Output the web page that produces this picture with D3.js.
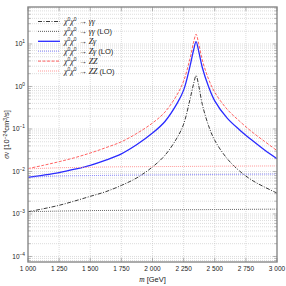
<!DOCTYPE html>
<html lang="en">
<head>
<meta charset="UTF-8" />
<title>sigma v vs m</title>
<script src="https://cdn.jsdelivr.net/npm/d3@7"></script>
<style>
  body { margin: 0; background: #fff; }
  svg { display: block; }
  .tick-label { font: 6.5px "Liberation Sans", Arial, sans-serif; fill: #222; }
  .math { font-family: "Liberation Serif", "DejaVu Serif", serif; font-style: italic; }
</style>
</head>
<body>
<svg width="286" height="286"></svg>
<script>
// ---- data ----
const massFull = [1000, 1125, 1250, 1375, 1500, 1625, 1750, 1875, 2000, 2100, 2200, 2250, 2300, 2330, 2350, 2370, 2400, 2450, 2500, 2600, 2700, 2800, 2900, 3000];
const sigmaGG  = [0.00113, 0.00133, 0.0016, 0.00202, 0.0026, 0.00335, 0.0047, 0.0071, 0.0128, 0.024, 0.064, 0.13, 0.48, 1.15, 1.8, 1.1, 0.38, 0.12, 0.054, 0.020, 0.0102, 0.0062, 0.0043, 0.0031];
const sigmaZG  = [0.0073, 0.0082, 0.0094, 0.0113, 0.0140, 0.0185, 0.026, 0.043, 0.080, 0.15, 0.41, 0.82, 2.9, 7.2, 11.3, 7.0, 2.8, 1.0, 0.46, 0.18, 0.095, 0.054, 0.032, 0.020];
const sigmaZZ  = [0.0117, 0.0140, 0.0170, 0.0211, 0.0272, 0.0363, 0.050, 0.079, 0.138, 0.25, 0.66, 1.35, 4.4, 11, 17, 10.5, 4.2, 1.5, 0.73, 0.29, 0.152, 0.085, 0.051, 0.031];

const massLO   = [1000, 1250, 1500, 1750, 2000, 2500, 3000];
const sigmaGGlo = [0.00113, 0.00117, 0.0012, 0.00122, 0.00124, 0.00127, 0.0013];
const sigmaZGlo = [0.0073, 0.0078, 0.008, 0.0082, 0.0083, 0.0085, 0.0087];
const sigmaZZlo = [0.0115, 0.0122, 0.0126, 0.0129, 0.013, 0.0133, 0.0135];

const xTicks = [1000, 1250, 1500, 1750, 2000, 2250, 2500, 2750, 3000];
const yDecades = [-4, -3, -2, -1, 0, 1];

const series = [
  { label: "\u2192 \u03b3\u03b3", lo: false, x: massFull, y: sigmaGG,   color: "#222",    width: 0.9, dash: "4,1.5,1,1.5" },
  { label: "\u2192 \u03b3\u03b3", lo: true,  x: massLO,   y: sigmaGGlo, color: "#555",    width: 0.9, dash: "1,1" },
  { label: "\u2192 Z\u03b3",      lo: false, x: massFull, y: sigmaZG,   color: "#2a2aff", width: 1.3, dash: null },
  { label: "\u2192 Z\u03b3",      lo: true,  x: massLO,   y: sigmaZGlo, color: "#8080ff", width: 0.9, dash: "1,1" },
  { label: "\u2192 ZZ",           lo: false, x: massFull, y: sigmaZZ,   color: "#ff5050", width: 0.9, dash: "3,1.5" },
  { label: "\u2192 ZZ",           lo: true,  x: massLO,   y: sigmaZZlo, color: "#ff9a9a", width: 1, dash: "1,1" }
];

// ---- layout ----
const svg = d3.select("svg");
const pLeft = 28, pRight = 277, pTop = 7, pBottom = 262;

const x = d3.scaleLinear().domain([1000, 3000]).range([pLeft, pRight]);
const y = d3.scaleLog().domain([Math.pow(10, -4.13), Math.pow(10, 1.87)]).range([pBottom, pTop]);

const g = svg.append("g");

// grid: horizontal at every log tick, vertical at x ticks
const minorVals = [];
[-5].concat(yDecades).forEach(k => {
  for (let i = 1; i <= 9; i++) {
    const v = i * Math.pow(10, k);
    if (v >= y.domain()[0] && v <= y.domain()[1]) minorVals.push(v);
  }
});

g.selectAll(".hgrid").data(minorVals).enter().append("line")
  .attr("x1", pLeft).attr("x2", pRight)
  .attr("y1", d => y(d)).attr("y2", d => y(d))
  .attr("stroke", "#c4c4c4").attr("stroke-width", 0.6).attr("stroke-dasharray", "1,1");

g.selectAll(".vgrid").data(xTicks.slice(1, -1)).enter().append("line")
  .attr("x1", d => x(d)).attr("x2", d => x(d))
  .attr("y1", pTop).attr("y2", pBottom)
  .attr("stroke", "#c4c4c4").attr("stroke-width", 0.6).attr("stroke-dasharray", "1,1");

// ticks inside the frame
const tickColor = "#888";
minorVals.forEach(v => {
  const major = Math.abs(Math.log10(v) - Math.round(Math.log10(v))) < 1e-9;
  const len = major ? 4 : 2.5;
  g.append("line").attr("x1", pLeft).attr("x2", pLeft + len).attr("y1", y(v)).attr("y2", y(v))
    .attr("stroke", tickColor).attr("stroke-width", 0.6);
  g.append("line").attr("x1", pRight).attr("x2", pRight - len).attr("y1", y(v)).attr("y2", y(v))
    .attr("stroke", tickColor).attr("stroke-width", 0.6);
});
xTicks.forEach(v => {
  g.append("line").attr("x1", x(v)).attr("x2", x(v)).attr("y1", pBottom).attr("y2", pBottom - 4)
    .attr("stroke", tickColor).attr("stroke-width", 0.6);
  g.append("line").attr("x1", x(v)).attr("x2", x(v)).attr("y1", pTop).attr("y2", pTop + 4)
    .attr("stroke", tickColor).attr("stroke-width", 0.6);
});

// curves
const line = d3.line()
  .x(d => x(d[0]))
  .y(d => y(d[1]))
  .curve(d3.curveCatmullRom.alpha(0.5));

series.forEach(s => {
  const pts = s.x.map((m, i) => [m, s.y[i]]);
  g.append("path")
    .attr("d", line(pts))
    .attr("fill", "none")
    .attr("stroke", s.color)
    .attr("stroke-width", s.width)
    .attr("stroke-dasharray", s.dash);
});

// frame
g.append("rect")
  .attr("x", pLeft).attr("y", pTop)
  .attr("width", pRight - pLeft).attr("height", pBottom - pTop)
  .attr("fill", "none").attr("stroke", "#888").attr("stroke-width", 1.4);

// x tick labels
g.selectAll(".xl").data(xTicks).enter().append("text")
  .attr("class", "tick-label")
  .attr("x", d => x(d)).attr("y", 271)
  .attr("text-anchor", "middle")
  .text(d => d3.format(",")(d).replace(",", " "));

// y tick labels 10^k
yDecades.forEach(k => {
  const t = g.append("text").attr("class", "tick-label")
    .attr("x", 25).attr("y", y(Math.pow(10, k)) + 2.5)
    .attr("text-anchor", "end");
  t.append("tspan").text("10");
  t.append("tspan").attr("dy", -3).attr("font-size", "4.8px").text((k < 0 ? "\u2212" : "") + Math.abs(k));
});

// axis titles
const xt = g.append("text").attr("x", (pLeft + pRight) / 2).attr("y", 282)
  .attr("text-anchor", "middle").attr("font-size", "7.5px").attr("fill", "#222")
  .attr("font-family", "Liberation Sans, Arial, sans-serif");
xt.append("tspan").attr("class", "math").text("m");
xt.append("tspan").text(" [GeV]");

const yt = g.append("text")
  .attr("transform", `translate(9,${(pTop + pBottom) / 2}) rotate(-90)`)
  .attr("text-anchor", "middle").attr("font-size", "7.5px").attr("fill", "#222")
  .attr("font-family", "Liberation Sans, Arial, sans-serif");
yt.append("tspan").attr("class", "math").text("\u03c3v");
yt.append("tspan").text(" [10");
yt.append("tspan").attr("dy", -2.5).attr("font-size", "5px").text("\u221224");
yt.append("tspan").attr("dy", 2.5).text("cm");
yt.append("tspan").attr("dy", -2.5).attr("font-size", "5px").text("3");
yt.append("tspan").attr("dy", 2.5).text("/s]");

// legend
const legY0 = 21.5, legStep = 9.9;
series.forEach((s, i) => {
  const ly = legY0 + i * legStep;
  g.append("line")
    .attr("x1", 38).attr("x2", 60).attr("y1", ly).attr("y2", ly)
    .attr("stroke", s.color).attr("stroke-width", s.width)
    .attr("stroke-dasharray", s.dash);
  const t = g.append("text").attr("x", 64).attr("y", ly + 2.5)
    .attr("font-size", "8px").attr("fill", "#222")
    .attr("font-family", "Liberation Sans, Arial, sans-serif");
  t.append("tspan").attr("class", "math").text("\u03c7");
  t.append("tspan").attr("dy", -3).attr("font-size", "5px").text("0");
  t.append("tspan").attr("dy", 3).attr("class", "math").text("\u03c7");
  t.append("tspan").attr("dy", -3).attr("font-size", "5px").text("0");
  t.append("tspan").attr("dy", 3).attr("class", "math").text(" " + s.label);
  if (s.lo) t.append("tspan").attr("font-size", "7.5px").text(" (LO)");
});
</script>
</body>
</html>
